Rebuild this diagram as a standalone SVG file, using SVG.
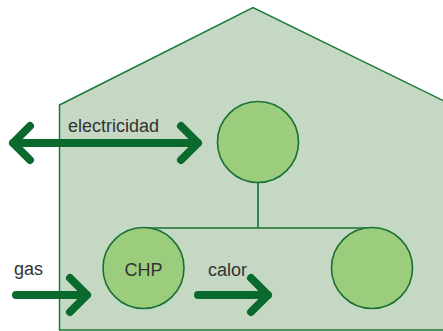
<svg xmlns="http://www.w3.org/2000/svg" width="443" height="331" viewBox="0 0 443 331">
<style>
.house{fill:#c4d8c4;stroke:#187a36;stroke-width:1.5}
.node{fill:#9bcd7d;stroke:#187236;stroke-width:1.6}
.link{fill:none;stroke:#187236;stroke-width:1.6}
.arrow{fill:none;stroke:#0a6a2e;stroke-width:8;stroke-linecap:round;stroke-linejoin:round}
text{font-family:"Liberation Sans",Arial,sans-serif;font-size:18px;fill:#333}
</style>
<rect width="443" height="331" fill="#fff"/>
<g id="house"><polygon class="house" points="59.5,105 253,7.5 446,102 446,330 59.5,330"/></g>
<g id="connectors">
<path class="link" d="M258,182 V228 M143,228 H372"/>
<path class="arrow" d="M13,143 H198 M30,126 L13,143 L30,160 M181,126 L198,143 L181,160"/>
<path class="arrow" d="M16,295 H87 M70,278 L87,295 L70,312"/>
<path class="arrow" d="M198,295 H268 M251,278 L268,295 L251,312"/>
</g>
<g id="node-top"><circle class="node" cx="258" cy="142" r="40.5"/></g>
<g id="node-chp"><circle class="node" cx="143.5" cy="268" r="40.5"/><text x="143.5" y="276" text-anchor="middle" font-size="17">CHP</text></g>
<g id="node-right"><circle class="node" cx="372" cy="268" r="40.5"/></g>
<g id="labels">
<text x="68" y="132">electricidad</text>
<text x="14" y="275">gas</text>
<text x="208" y="276">calor</text>
</g>
</svg>
